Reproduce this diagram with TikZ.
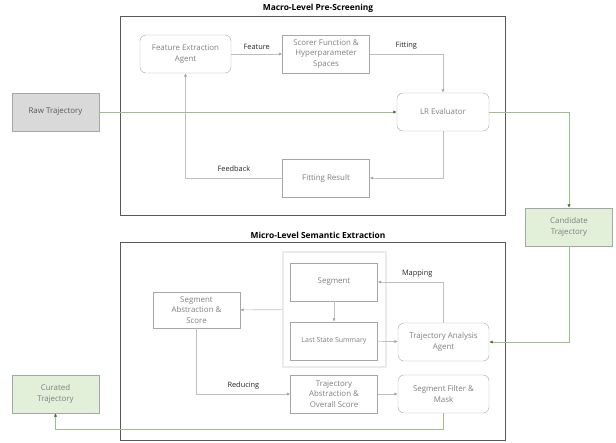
\documentclass[tikz,border=0pt]{standalone}
\usepackage{fontspec}
\setmainfont{Open Sans}
\usetikzlibrary{arrows.meta}
\definecolor{frm}{HTML}{595959}
\definecolor{boxgray}{HTML}{A6A6A6}
\definecolor{linegray}{HTML}{BFBFBF}
\definecolor{txtgray}{HTML}{7F7F7F}
\definecolor{grpgray}{HTML}{EBEBEB}
\definecolor{arrgreen}{HTML}{3F6F22}
\definecolor{linegreen}{HTML}{9DBF88}
\definecolor{fillgreen}{HTML}{E2F0D9}
\definecolor{fillgray}{HTML}{D9D9D9}

\begin{document}
\begin{tikzpicture}
  [x=1pt,y=-1pt,
   box/.style={draw=boxgray,text=txtgray,minimum width=87pt,minimum height=38pt,
     align=center,inner sep=2pt,font=\fontsize{7.9}{10.8}\selectfont},
   rbox/.style={box,rounded corners=6pt},
   gbox/.style={box,fill=fillgreen},
   frame/.style={draw=frm,line width=0.9pt},
   title/.style={font=\bfseries\fontsize{8.4}{10}\selectfont},
   lbl/.style={font=\fontsize{7.4}{9}\selectfont,text=black!85},
   garr/.style={draw=linegray,line width=0.6pt,-{Latex[length=3.5pt,width=3.2pt,color=boxgray]}},
   carr/.style={draw=linegreen,line width=0.6pt,-{Latex[length=3.5pt,width=3.2pt,color=arrgreen]}}]
  \useasboundingbox (0,0) rectangle (616,442);

  % macro level
  \draw[frame] (120,16) rectangle (505,215);
  \node[title] (t1) at (318,8) {Macro-Level Pre-Screening};
  \node[rbox,minimum width=91pt] (fea) at (185.5,54) {Feature Extraction\\Agent};
  \node[box] (sco) at (326,54) {Scorer Function \&\\Hyperparameter\\Spaces};
  \node[rbox,minimum width=92pt] (lr) at (443,112) {LR Evaluator};
  \node[box] (fit) at (326,178) {Fitting Result};
  \node[box,fill=fillgray,text=frm] (raw) at (55.5,112) {Raw Trajectory};
  \node[gbox] (cand) at (569,227) {Candidate\\Trajectory};

  % micro level
  \draw[frame] (120,242) rectangle (505,440);
  \node[title] (t2) at (318,235) {Micro-Level Semantic Extraction};
  \node[draw=grpgray,line width=1.6pt,minimum width=103pt,minimum height=115pt] (grp) at (334.5,309.5) {};
  \node[box] (seg) at (334,282) {Segment};
  \node[box,font=\fontsize{7}{9}\selectfont] (last) at (334,341) {Last State Summary};
  \node[box,minimum height=36pt] (saa) at (196.5,310) {Segment\\Abstraction \&\\Score};
  \node[rbox,minimum width=91pt] (taa) at (443.5,342) {Trajectory Analysis\\Agent};
  \node[box] (tas) at (334,394) {Trajectory\\Abstraction \&\\Overall Score};
  \node[rbox,minimum width=91pt] (sfm) at (443.5,394) {Segment Filter \&\\Mask};
  \node[gbox] (cur) at (55.5,394) {Curated\\Trajectory};

  \foreach \from/\to in {seg/last,last/taa,grp/saa,tas/sfm}
    \draw[garr] (\from) -- (\to);

  \draw[garr] (fea) -- node[lbl,above=1pt] {Feature} (sco);
  \draw[garr] (sco.east) -| node[lbl,pos=0.25,above=1pt] {Fitting} (lr.north);
  \draw[garr] (lr.south) |- (fit.east);
  \draw[garr] (fit.west) -| node[lbl,pos=0.25,above=3pt] {Feedback} (fea.south);
  \draw[garr] (taa.north) |- node[lbl,pos=0.7,above=1pt] {Mapping} (seg.east);
  \draw[garr] (saa.south) |- node[lbl,pos=0.75,above=1pt] {Reducing} (tas.west);

  \draw[carr] (raw) -- (lr);
  \draw[carr] (lr.east) -| (cand.north);
  \draw[carr] (cand.south) |- (taa.east);
  \draw[carr] (sfm.south) -- ++(0,16) -| (cur.south);

\end{tikzpicture}
\end{document}
